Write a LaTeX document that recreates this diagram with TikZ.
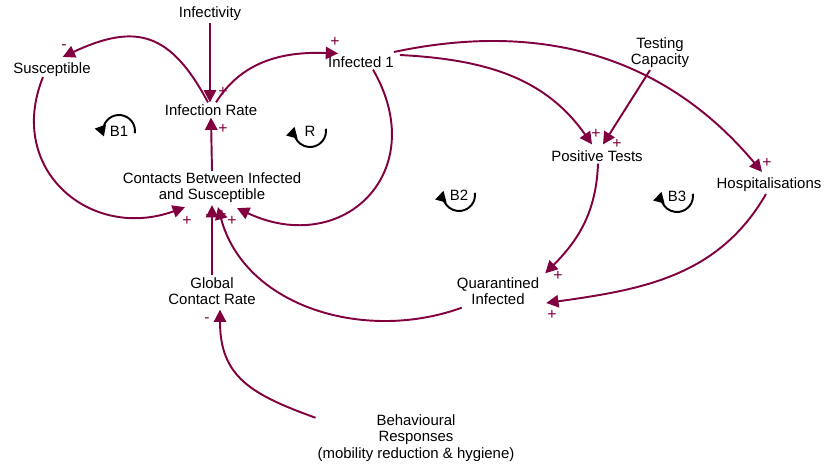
\documentclass[tikz,border=0pt]{standalone}
\usepackage{fontspec}
\setmainfont{Liberation Sans}
\usetikzlibrary{arrows.meta,calc}
\definecolor{cldred}{RGB}{128,0,64}
\tikzset{
  var/.style={align=center,inner sep=1pt,font=\fontsize{8.5}{9.2}\selectfont},
  arr/.style={-{Triangle[length=7pt,width=7pt]},draw=cldred,line width=1.1pt},
  pol/.style={text=cldred,font=\fontsize{9}{9}\selectfont,inner sep=0pt},
  looplbl/.style={font=\fontsize{8.5}{9}\selectfont,inner sep=0pt},
  loopsym/.style={-{Triangle[length=6pt,width=6.5pt]},line width=1.1pt}
}

\begin{document}
\begin{tikzpicture}[x=0.02cm,y=0.02cm]
  \useasboundingbox (0,0) rectangle (826,-466);

  % Variables
  \node[var] (ity) at (210,-14) {Infectivity};
  \node[var] (sus) at (52,-70) {Susceptible};
  \node[var] (inf) at (361,-62) {Infected 1};
  \node[var] (ir) at (211,-110) {Infection Rate};
  \node[var] (con) at (212,-188) {Contacts Between Infected\\and Susceptible};
  \node[var] (tc) at (660,-53) {Testing\\Capacity};
  \node[var] (pt) at (597,-156) {Positive Tests};
  \node[var] (hos) at (769,-185) {Hospitalisations};
  \node[var] (gcr) at (212,-291) {Global\\Contact Rate};
  \node[var] (qi) at (498,-291) {Quarantined\\Infected};
  \node[var] (beh) at (416,-438) {Behavioural\\Responses\\(mobility reduction \& hygiene)};

  % Causal links
  \draw[arr] (ity.south) -- (ity.south |- ir.north);
  \draw[arr] ($(ir.north)+(-3,0)$) to[out=118,in=25,looseness=1.35] ($(sus.north east)+(-30,4)$);
  \draw[arr] ($(ir.north)+(5,0)$) to[out=58,in=178] ($(inf.north west)+(12,1)$);
  \draw[arr] (con.north) -- (ir.south);
  \draw[arr] ($(sus.south)+(-9,2)$) to[out=248,in=200,looseness=1.33] ($(con.south)+(-27,-2)$);
  \draw[arr] ($(inf.south)+(12,0)$) to[out=-60,in=-25,looseness=1.55] ($(con.south)+(25,-3)$);
  \draw[arr] (gcr.north) -- (gcr.north |- con.south);
  \draw[arr] ($(qi.south west)+(7,-1)$) to[out=200,in=-75] ($(con.south)+(6,-2)$);
  \draw[arr] ($(beh.north west)+(0,-5)$) to[out=160,in=-90,looseness=1.2] ($(gcr.south)+(8,-3)$);
  \draw[arr] ($(inf.east)+(4,7)$) to[out=-3,in=125] ($(pt.north)+(-5,4)$);
  \draw[arr] ($(tc.south)+(-10,0)$) -- ($(pt.north)+(6,4)$);
  \draw[arr] ($(inf.east)+(-2,10)$) to[out=12,in=130] ($(hos.north)+(-7,4)$);
  \draw[arr] ($(pt.south)+(1,0)$) to[out=-92,in=45] ($(qi.north east)+(4,2)$);
  \draw[arr] ($(hos.south)+(-3,0)$) to[out=-120,in=8] ($(qi.east)+(5,-12)$);

  % Polarities
  \foreach \px/\py/\s [count=\i] in {64/47/-, 335/42/+, 223/92/+, 223/129/+,
      187/221/+, 208/217/-, 222/215/+, 232/221/+, 207/320/-, 596/134/+,
      617/144/+, 767/163/+, 558/276/+, 552/315/+}
    \node[pol] (pol\i) at (\px,-\py) {\s};

  % Loop markers
  \node[looplbl] (lB1) at (119,-131) {B1};
  \node[looplbl] (lR) at (310,-131) {R};
  \node[looplbl] (lB2) at (459,-195) {B2};
  \node[looplbl] (lB3) at (677,-196) {B3};
  \draw[loopsym] ($(lB1.center)+(-8:0.32cm)$) arc[start angle=-8,end angle=200,radius=0.32cm];
  \foreach \l in {lR,lB2,lB3}
    \draw[loopsym] ($(\l.center)+(8:0.32cm)$) arc[start angle=8,end angle=-195,radius=0.32cm];
\end{tikzpicture}
\end{document}
